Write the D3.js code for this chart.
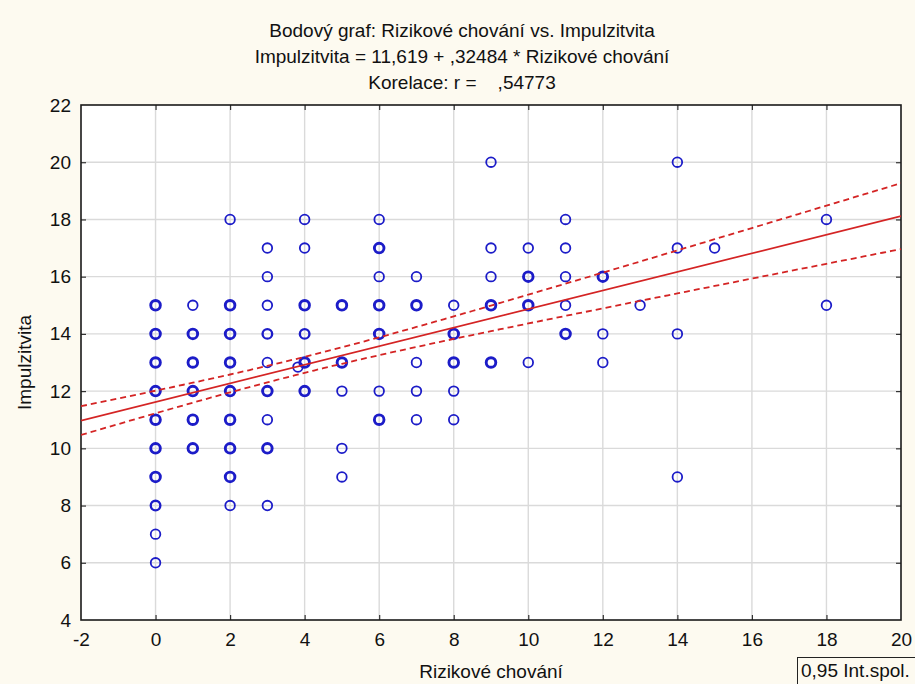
<!DOCTYPE html>
<html>
<head>
<meta charset="utf-8">
<script src="https://cdn.jsdelivr.net/npm/d3@7/dist/d3.min.js"></script>
<style>
  html, body { margin: 0; padding: 0; background: #fdfaf0; }
  svg { display: block; }
  text { font-family: "Liberation Sans", Arial, sans-serif; fill: #111; }
</style>
</head>
<body>
<svg id="chart" width="915" height="684"></svg>
<script>
// ---- Data ----
const riskX = [
  0,0,0,0,0,0,0,0,0,0,
  1,1,1,1,1,1,
  2,2,2,2,2,2,2,2,2,
  3,3,3,3,3,3,3,3,3,
  4,4,4,4,4,4,3.82,
  5,5,5,5,5,
  6,6,6,6,6,6,6,
  7,7,7,7,7,
  8,8,8,8,8,
  9,9,9,9,9,
  10,10,10,10,
  11,11,11,11,11,
  12,12,12,
  13,
  14,14,14,14,
  15,
  18,18
];
const impulsY = [
  15,14,13,12,11,10,9,8,7,6,
  15,14,13,12,11,10,
  18,15,14,13,12,11,10,9,8,
  17,16,15,14,13,12,11,10,8,
  18,17,15,14,13,12,12.84,
  15,13,12,10,9,
  18,17,16,15,14,12,11,
  16,15,13,12,11,
  15,14,13,12,11,
  20,17,16,15,13,
  17,16,15,13,
  18,17,16,15,14,
  16,14,13,
  15,
  20,17,14,9,
  17,
  18,15
];
// approximate number of overlapping observations at each spot
const overlap = [
  3,3,3,3,3,3,3,2,1,1,
  1,3,3,3,3,3,
  1,3,3,3,3,3,3,3,1,
  1,1,1,2,1,3,1,3,1,
  1,1,3,2,3,3,1,
  3,3,1,1,1,
  1,3,1,3,3,1,3,
  1,3,1,1,1,
  1,3,3,1,1,
  1,1,1,3,3,
  1,3,3,1,
  1,1,1,1,3,
  3,1,1,
  1,
  1,1,1,1,
  1,
  1,1
];
const xTicks = [-2,0,2,4,6,8,10,12,14,16,18,20];
const yTicks = [4,6,8,10,12,14,16,18,20,22];
const titleLines = [
  "Bodový graf: Rizikové chování vs. Impulzitvita",
  "Impulzitvita = 11,619 + ,32484 * Rizikové chování",
  "Korelace: r =    ,54773"
];
const xLabel = "Rizikové chování";
const yLabel = "Impulzitvita";
const legendLabel = "0,95 Int.spol.";
// regression parameters
const intercept = 11.619, slope = 0.32484;
// estimated parameters of the 0.95 confidence band
const bandN = 200, bandXMean = 4.0, bandResidSD = 2.0, bandSxx = 3190, bandT = 1.972;

// ---- Layout ----
const svg = d3.select("#chart");
const L = 81, R = 901, T = 105, B = 620;
const x = d3.scaleLinear().domain([-2, 20]).range([L, R]);
const y = d3.scaleLinear().domain([4, 22]).range([B, T]);
const fs = 19;
const fmt = d => String(d);

svg.append("rect").attr("width", 915).attr("height", 684).attr("fill", "#fdfaf0");
svg.append("rect").attr("x", L).attr("y", T).attr("width", R - L).attr("height", B - T).attr("fill", "#ffffff");

// grid
const grid = svg.append("g").attr("stroke", "#dadada").attr("stroke-width", 1.4);
grid.selectAll("line.v").data(xTicks.slice(1, -1)).join("line")
  .attr("x1", d => x(d)).attr("x2", d => x(d)).attr("y1", T).attr("y2", B);
grid.selectAll("line.h").data(yTicks.slice(1, -1)).join("line")
  .attr("y1", d => y(d)).attr("y2", d => y(d)).attr("x1", L).attr("x2", R);

// axes
const axB = svg.append("g").attr("transform", `translate(0,${B})`)
  .call(d3.axisBottom(x).tickValues(xTicks).tickSize(-5).tickPadding(13).tickFormat(fmt));
const axL = svg.append("g").attr("transform", `translate(${L},0)`)
  .call(d3.axisLeft(y).tickValues(yTicks).tickSize(-5).tickPadding(10).tickFormat(fmt));
const axT = svg.append("g").attr("transform", `translate(0,${T})`)
  .call(d3.axisTop(x).tickValues(xTicks).tickSize(-5).tickFormat(""));
const axR = svg.append("g").attr("transform", `translate(${R},0)`)
  .call(d3.axisRight(y).tickValues(yTicks).tickSize(-5).tickFormat(""));
[axB, axL, axT, axR].forEach(a => {
  a.select(".domain").remove();
  a.selectAll(".tick line").attr("stroke", "#333").attr("stroke-width", 1.2);
  a.selectAll("text").attr("font-size", fs).attr("font-family", "Liberation Sans, Arial, sans-serif").attr("fill", "#111");
});
axB.selectAll(".tick").filter(d => d === -2 || d === 20).select("line").remove();
axL.selectAll(".tick").filter(d => d === 4 || d === 22).select("line").remove();
axT.selectAll(".tick").filter(d => d === -2 || d === 20).remove();
axR.selectAll(".tick").filter(d => d === 4 || d === 22).remove();

// frame
svg.append("rect").attr("x", L).attr("y", T).attr("width", R - L).attr("height", B - T)
  .attr("fill", "none").attr("stroke", "#1a1a1a").attr("stroke-width", 1.6);

// clip
svg.append("clipPath").attr("id", "plotclip").append("rect")
  .attr("x", L).attr("y", T).attr("width", R - L).attr("height", B - T);
const plot = svg.append("g").attr("clip-path", "url(#plotclip)");

// points
const sw = d3.scaleLinear().domain([1, 3]).range([1.8, 2.9]);
plot.selectAll("circle.pt").data(riskX.map((d, i) => ({ x: d, y: impulsY[i], n: overlap[i] })))
  .join("circle")
  .attr("cx", d => x(d.x)).attr("cy", d => y(d.y)).attr("r", 4.8)
  .attr("fill", "none").attr("stroke", "#1c1cc8").attr("stroke-width", d => sw(d.n));

// regression & confidence band
const xs = d3.range(-2, 20.001, 0.25);
const fit = v => intercept + slope * v;
const hw = v => bandT * bandResidSD * Math.sqrt(1 / bandN + (v - bandXMean) ** 2 / bandSxx);
const line = d3.line().x(d => x(d[0])).y(d => y(d[1]));
plot.append("path").datum(xs.map(v => [v, fit(v) + hw(v)])).attr("d", line)
  .attr("fill", "none").attr("stroke", "#d42424").attr("stroke-width", 1.8).attr("stroke-dasharray", "6,4");
plot.append("path").datum(xs.map(v => [v, fit(v) - hw(v)])).attr("d", line)
  .attr("fill", "none").attr("stroke", "#d42424").attr("stroke-width", 1.8).attr("stroke-dasharray", "6,4");
plot.append("path").datum([[-2, fit(-2)], [20, fit(20)]]).attr("d", line)
  .attr("fill", "none").attr("stroke", "#d42424").attr("stroke-width", 1.7);

// titles
svg.append("g").selectAll("text").data(titleLines).join("text")
  .attr("x", 462).attr("y", (d, i) => 37 + i * 26)
  .attr("text-anchor", "middle").attr("font-size", fs)
  .style("white-space", "pre").attr("xml:space", "preserve")
  .text(d => d);

svg.append("text").attr("x", (L + R) / 2).attr("y", 678).attr("text-anchor", "middle")
  .attr("font-size", fs).text(xLabel);
svg.append("text").attr("transform", `translate(31,${(T + B) / 2}) rotate(-90)`)
  .attr("text-anchor", "middle").attr("font-size", fs).text(yLabel);

// legend box (partially outside the page, as in the original)
svg.append("rect").attr("x", 797.5).attr("y", 657.5).attr("width", 160).attr("height", 60)
  .attr("fill", "none").attr("stroke", "#222").attr("stroke-width", 1);
svg.append("text").attr("x", 801).attr("y", 677).attr("font-size", fs).text(legendLabel);
</script>
</body>
</html>
